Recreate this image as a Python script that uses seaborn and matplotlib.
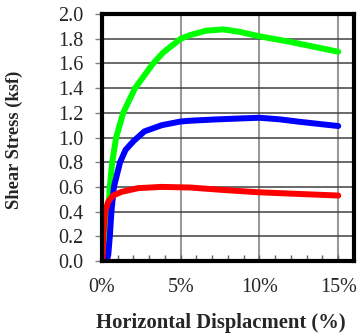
import numpy as np
import pandas as pd
import matplotlib
matplotlib.use("Agg")
import matplotlib.pyplot as plt
import seaborn as sns
from matplotlib.ticker import MultipleLocator, FuncFormatter

# -----------------------------------------
# Data (displacement %, stress ksf)
# -----------------------------------------
green_x = [0.25, 0.34, 0.4, 0.5, 0.65, 0.9, 1.35, 2.1, 3.25, 3.9, 5.0, 5.6, 6.6, 7.7, 8.7, 10.0, 11.9, 15.0]
green_y = [0.0, 0.2, 0.4, 0.6, 0.8, 1.0, 1.2, 1.4, 1.6, 1.69, 1.8, 1.83, 1.865, 1.876, 1.857, 1.82, 1.776, 1.695]

blue_x = [0.3, 0.4, 0.5, 0.6, 0.76, 1.15, 1.5, 2.0, 2.7, 3.8, 5.0, 5.6, 7.3, 8.9, 10.0, 11.3, 12.5, 15.0]
blue_y = [0.0, 0.05, 0.2, 0.4, 0.6, 0.8, 0.9, 0.97, 1.05, 1.10, 1.13, 1.136, 1.147, 1.155, 1.16, 1.147, 1.128, 1.093]

red_x = [0.02, 0.08, 0.2, 0.4, 0.7, 1.25, 2.3, 3.8, 5.6, 7.7, 10.0, 12.5, 15.0]
red_y = [0.0, 0.2, 0.4, 0.48, 0.53, 0.56, 0.59, 0.6, 0.595, 0.575, 0.556, 0.543, 0.53]

series = ["green", "blue", "red"]
colors = {"green": "#00ff00", "blue": "#0000ff", "red": "#ff0000"}

df = pd.concat([
    pd.DataFrame({"x": green_x, "y": green_y, "s": "green"}),
    pd.DataFrame({"x": blue_x, "y": blue_y, "s": "blue"}),
    pd.DataFrame({"x": red_x, "y": red_y, "s": "red"}),
])

sns.set_style("white")
plt.rcParams["font.family"] = ["Liberation Serif", "DejaVu Serif"]

fig = plt.figure(figsize=(3.59, 3.35), dpi=100)
ax = fig.add_axes([0.284, 0.221, 0.702, 0.737])

sns.lineplot(data=df, x="x", y="y", hue="s", palette=colors, hue_order=series,
             sort=False, estimator=None, units="s", linewidth=4.3,
             legend=False, ax=ax, zorder=3, solid_capstyle="round",
             solid_joinstyle="round")

ax.set_xlim(0, 16)
ax.set_ylim(0, 2.0)
ax.xaxis.set_major_locator(MultipleLocator(5))
ax.xaxis.set_minor_locator(MultipleLocator(1))
ax.xaxis.set_major_formatter(FuncFormatter(lambda v, p: f"{v:.0f}%"))
ax.yaxis.set_major_locator(MultipleLocator(0.2))
ax.yaxis.set_major_formatter(FuncFormatter(lambda v, p: f"{v:.1f}"))

for sp in ax.spines.values():
    sp.set_visible(True)
    sp.set_color("black")
    sp.set_linewidth(3)
    sp.set_zorder(4)

ax.tick_params(axis="y", which="major", direction="out", length=5, width=1.0,
               color="#808080", labelsize=14.5, pad=8.5, left=True)
ax.tick_params(axis="x", which="major", direction="in", length=4, width=1.0,
               color="#606060", labelsize=14.5, pad=12, bottom=True)
ax.tick_params(axis="x", which="minor", direction="in", length=4, width=1.0,
               color="#606060", bottom=True)

# gridlines
ax.set_axisbelow(True)
ax.yaxis.grid(True, which="major", color="#404040", linewidth=1.1)
ax.xaxis.grid(True, which="major", color="#999999", linewidth=1.5)

ax.set_xlabel("Horizontal Displacment (%)", fontsize=14.9, fontweight="bold", va="top")
ax.set_ylabel("Shear Stress (ksf)", fontsize=13.3, fontweight="bold")
ax.xaxis.set_label_coords(0.472, -0.21)
ax.yaxis.set_label_coords(-0.313, 0.49)

fig.savefig("out.png", dpi=100)
